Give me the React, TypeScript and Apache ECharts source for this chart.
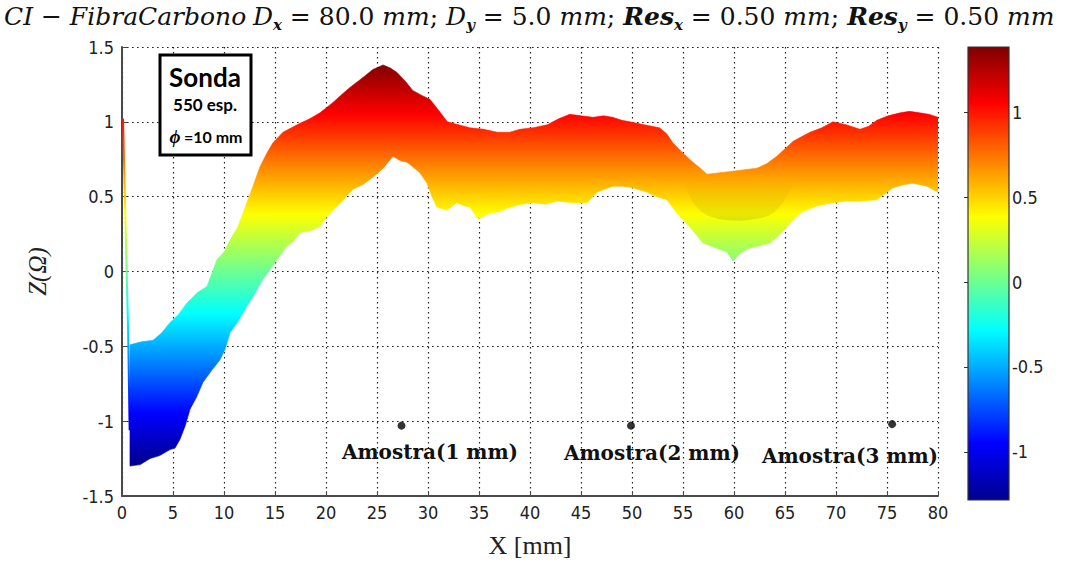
import React, { useEffect, useRef } from "react";
import * as echarts from "echarts";

// Upper and lower envelopes of the impedance surface seen in the X–Z plane
const upperX = [0.78, 1.9, 3.04, 3.9, 4.71, 5.5, 6.37, 7.4, 8.33, 9.31, 10.0, 10.59, 11.3, 11.86, 12.84, 13.53, 14.2, 14.8, 15.78, 16.6, 17.45, 18.4, 19.41, 20.69, 21.5, 22.35, 23.5, 24.6, 25.6, 26.3, 26.96, 27.8, 28.5, 29.3, 30.2, 31.0, 31.9, 33.0, 34.1, 35.5, 36.8, 38.0, 39.0, 40.3, 41.7, 42.8, 43.9, 45.0, 46.2, 47.2, 48.1, 49.0, 49.8, 51.2, 52.7, 53.4, 54.0, 55.0, 55.98, 56.7, 57.35, 58.6, 59.9, 61.0, 62.25, 63.2, 64.2, 65.0, 65.8, 66.6, 67.45, 68.6, 69.7, 71.0, 72.35, 73.2, 74.0, 75.1, 76.3, 77.2, 78.2, 79.1, 80.0];
const upperZ = [-0.49, -0.47, -0.46, -0.41, -0.34, -0.29, -0.21, -0.14, -0.1, 0.08, 0.13, 0.21, 0.29, 0.39, 0.57, 0.7, 0.79, 0.86, 0.93, 0.96, 0.99, 1.02, 1.06, 1.13, 1.18, 1.23, 1.29, 1.35, 1.38, 1.36, 1.33, 1.27, 1.21, 1.18, 1.15, 1.08, 1.0, 0.98, 0.96, 0.95, 0.93, 0.93, 0.95, 0.96, 0.98, 1.02, 1.05, 1.04, 1.03, 1.04, 1.03, 1.01, 1.0, 0.98, 0.96, 0.92, 0.86, 0.79, 0.73, 0.69, 0.65, 0.66, 0.67, 0.68, 0.69, 0.72, 0.77, 0.82, 0.87, 0.9, 0.93, 0.96, 1.0, 0.98, 0.95, 0.97, 1.01, 1.04, 1.06, 1.07, 1.06, 1.05, 1.03];
const lowerX = [0.78, 1.8, 2.75, 3.7, 4.71, 5.2, 5.69, 6.2, 6.67, 7.3, 7.94, 8.8, 9.61, 10.1, 10.59, 11.4, 12.25, 13.0, 13.82, 14.5, 15.2, 16.18, 16.8, 17.45, 18.4, 19.41, 20.0, 20.69, 21.7, 22.65, 23.6, 24.6, 25.6, 26.57, 27.3, 27.94, 28.5, 29.2, 29.9, 30.4, 30.88, 31.86, 32.84, 33.5, 34.12, 34.9, 35.5, 36.08, 37.0, 38.04, 39.2, 40.29, 41.5, 42.65, 44.2, 45.6, 46.57, 47.3, 48.14, 49.1, 50.1, 51.47, 52.4, 53.43, 54.4, 55.2, 56.0, 56.96, 58.1, 59.3, 59.9, 60.6, 61.27, 62.4, 63.53, 64.4, 65.2, 66.0, 66.76, 68.2, 69.7, 71.0, 72.35, 74.0, 74.8, 75.6, 76.6, 77.55, 78.9, 80.0];
const lowerZ = [-1.3, -1.29, -1.25, -1.23, -1.19, -1.18, -1.12, -1.03, -0.92, -0.84, -0.74, -0.66, -0.59, -0.52, -0.41, -0.33, -0.23, -0.15, -0.05, 0.01, 0.08, 0.17, 0.2, 0.26, 0.27, 0.3, 0.36, 0.41, 0.48, 0.55, 0.58, 0.63, 0.69, 0.77, 0.74, 0.73, 0.7, 0.66, 0.59, 0.5, 0.43, 0.41, 0.46, 0.44, 0.43, 0.35, 0.37, 0.39, 0.4, 0.43, 0.45, 0.46, 0.45, 0.47, 0.46, 0.46, 0.53, 0.55, 0.57, 0.57, 0.56, 0.53, 0.5, 0.48, 0.39, 0.33, 0.27, 0.19, 0.16, 0.13, 0.07, 0.12, 0.15, 0.17, 0.19, 0.24, 0.3, 0.36, 0.4, 0.44, 0.46, 0.47, 0.47, 0.48, 0.52, 0.56, 0.58, 0.59, 0.57, 0.53];

// Darker fold of the surface around the 60 mm dip
const foldX = [55.2, 56.5, 58.0, 60.0, 62.0, 64.0, 65.8];
const foldHigh = [0.58, 0.61, 0.6, 0.6, 0.6, 0.62, 0.6];
const foldLow = [0.56, 0.42, 0.36, 0.34, 0.35, 0.4, 0.58];

// Thin probe trace at the left edge
const probeX = [0.1, 0.3, 0.6, 0.75];
const probeZ = [1.02, 0.45, -0.4, -1.06];

// Sample markers
const sampleX = [27.4, 49.9, 75.5];
const sampleZ = [-1.03, -1.03, -1.02];
const sampleLabels = ["Amostra(1 mm)", "Amostra(2 mm)", "Amostra(3 mm)"];

// Colour scale
const zMin = -1.284;
const zMax = 1.385;
const colorTicks = [-1, -0.5, 0, 0.5, 1];

// jet colormap, listed from the top (max) to the bottom (min)
const jetStops = [
  { offset: 0, color: "#800000" },
  { offset: 0.125, color: "#ff0000" },
  { offset: 0.375, color: "#ffff00" },
  { offset: 0.625, color: "#00ffff" },
  { offset: 0.875, color: "#0000ff" },
  { offset: 1, color: "#00008f" },
];

const tickFont = "'Liberation Sans Narrow', 'DejaVu Sans Condensed', 'Liberation Sans', sans-serif";
const axisColor = "#4a4a4a";
const titleFont = "'DejaVu Serif', serif";

export default function App() {
  const ref = useRef<HTMLDivElement>(null);

  useEffect(() => {
    const chart = echarts.init(ref.current!, undefined, { renderer: "svg" });

    const gridLine = { show: true, lineStyle: { color: "#222", type: [1.6, 3.4], width: 1.2 } };

    const option: any = {
      animation: false,
      backgroundColor: "#fff",
      grid: [
        { left: 122, top: 47, width: 816, height: 450 },
        { left: 968, top: 47, width: 41, height: 453 },
      ],
      xAxis: [
        {
          gridIndex: 0,
          type: "value",
          min: 0,
          max: 80,
          interval: 5,
          name: "X [mm]",
          nameLocation: "middle",
          nameGap: 36,
          nameTextStyle: { fontFamily: "'Liberation Serif', serif", fontSize: 26, color: "#222" },
          axisLine: { show: true, onZero: false, lineStyle: { color: axisColor, width: 2 } },
          axisTick: { show: true, inside: true, length: 5, lineStyle: { color: axisColor } },
          axisLabel: { fontFamily: tickFont, fontSize: 18, color: "#222", margin: 7 },
          splitLine: gridLine,
        },
        { gridIndex: 1, type: "value", min: 0, max: 1, show: false },
      ],
      yAxis: [
        {
          gridIndex: 0,
          type: "value",
          min: -1.5,
          max: 1.5,
          interval: 0.5,
          name: "Z(Ω)",
          nameLocation: "middle",
          nameRotate: 90,
          nameGap: 72,
          nameTextStyle: { fontFamily: "'Liberation Serif', serif", fontStyle: "italic", fontSize: 25, color: "#222" },
          axisLine: { show: true, onZero: false, lineStyle: { color: axisColor, width: 2 } },
          axisTick: { show: true, inside: true, length: 5, lineStyle: { color: axisColor } },
          axisLabel: { fontFamily: tickFont, fontSize: 18, color: "#222", margin: 8 },
          splitLine: gridLine,
        },
        {
          gridIndex: 1,
          type: "value",
          min: zMin,
          max: zMax,
          position: "right",
          axisLine: { show: false },
          axisTick: { show: true, inside: true, length: 4, customValues: colorTicks, lineStyle: { color: "#333" } },
          axisLabel: { show: true, customValues: colorTicks, fontFamily: tickFont, fontSize: 18, color: "#222", margin: 3 },
          splitLine: { show: false },
        },
        {
          gridIndex: 1,
          type: "value",
          min: zMin,
          max: zMax,
          position: "left",
          axisLine: { show: false },
          axisTick: { show: true, inside: true, length: 4, customValues: colorTicks, lineStyle: { color: "#333" } },
          axisLabel: { show: false },
          splitLine: { show: false },
        },
      ],
      series: [
        {
          type: "custom",
          xAxisIndex: 0,
          yAxisIndex: 0,
          data: [0],
          clip: true,
          silent: true,
          renderItem: (_params: any, api: any) => {
            const yTop = api.coord([0, zMax])[1];
            const yBot = api.coord([0, zMin])[1];
            const fill = () => new echarts.graphic.LinearGradient(0, yTop, 0, yBot, jetStops, true);
            const pts: number[][] = [];
            for (let i = 0; i < upperX.length; i++) pts.push(api.coord([upperX[i], upperZ[i]]));
            for (let i = lowerX.length - 1; i >= 0; i--) pts.push(api.coord([lowerX[i], lowerZ[i]]));
            const fold: number[][] = [];
            for (let i = 0; i < foldX.length; i++) fold.push(api.coord([foldX[i], foldHigh[i]]));
            for (let i = foldX.length - 1; i >= 0; i--) fold.push(api.coord([foldX[i], foldLow[i]]));
            const probe = probeX.map((x, i) => api.coord([x, probeZ[i]]));
            return {
              type: "group",
              children: [
                { type: "polygon", shape: { points: pts }, style: { fill: fill(), stroke: fill(), lineWidth: 0.6 } },
                {
                  type: "polygon",
                  shape: { points: fold, smooth: 0.4 },
                  style: {
                    fill: new echarts.graphic.LinearGradient(0, 0, 0, 1, [
                      { offset: 0, color: "rgba(110,90,0,0)" },
                      { offset: 1, color: "rgba(110,90,0,0.17)" },
                    ]),
                  },
                },
                { type: "polyline", shape: { points: probe }, style: { fill: null, stroke: fill(), lineWidth: 2 } },
              ],
            };
          },
        },
        {
          type: "scatter",
          xAxisIndex: 0,
          yAxisIndex: 0,
          symbolSize: 8,
          itemStyle: { color: "#000" },
          data: sampleX.map((x, i) => [x, sampleZ[i]]),
          z: 5,
        },
        {
          type: "custom",
          xAxisIndex: 1,
          yAxisIndex: 1,
          data: [0],
          silent: true,
          renderItem: (_params: any, api: any) => {
            const p0 = api.coord([0, zMax]);
            const p1 = api.coord([1, zMin]);
            return {
              type: "rect",
              shape: { x: p0[0], y: p0[1], width: p1[0] - p0[0], height: p1[1] - p0[1] },
              style: {
                fill: new echarts.graphic.LinearGradient(0, p0[1], 0, p1[1], jetStops, true),
                stroke: "#333",
                lineWidth: 1.2,
              },
            };
          },
        },
      ],
      graphic: [
        {
          type: "text",
          left: 4,
          top: 4,
          style: {
            text:
              "{i|CI − FibraCarbono}  {i|D}{s|x}{n| = 80.0 }{i|mm}{n|; }{i|D}{s|y}{n| = 5.0 }{i|mm}{n|; }{b|Res}{s|x}{n| = 0.50 }{i|mm}{n|; }{b|Res}{s|y}{n| = 0.50 }{i|mm}",
            rich: {
              i: { fontFamily: titleFont, fontStyle: "italic", fontSize: 25, lineHeight: 32, verticalAlign: "middle", fill: "#111" },
              b: { fontFamily: titleFont, fontStyle: "italic", fontWeight: "bold", fontSize: 25, lineHeight: 32, verticalAlign: "middle", fill: "#111" },
              n: { fontFamily: titleFont, fontSize: 25, lineHeight: 32, verticalAlign: "middle", fill: "#111" },
              s: { fontFamily: titleFont, fontStyle: "italic", fontWeight: "bold", fontSize: 15, lineHeight: 13, verticalAlign: "bottom", fill: "#111" },
            },
          },
        },
        {
          type: "rect",
          shape: { x: 160, y: 55, width: 91, height: 100 },
          style: { fill: "#fff", stroke: "#000", lineWidth: 3 },
          z: 10,
        },
        {
          type: "text",
          x: 205,
          y: 77,
          style: { text: "Sonda", fontFamily: "Lato, 'Open Sans', sans-serif", fontWeight: "bold", fontSize: 26, fill: "#000", align: "center", verticalAlign: "middle" },
          z: 11,
        },
        {
          type: "text",
          x: 205,
          y: 104,
          style: { text: "550 esp.", fontFamily: "Lato, 'Open Sans', sans-serif", fontWeight: "bold", fontSize: 17, fill: "#000", align: "center", verticalAlign: "middle" },
          z: 11,
        },
        {
          type: "text",
          x: 206,
          y: 136,
          style: {
            text: "{p|ϕ} {t|=10 mm}",
            align: "center",
            verticalAlign: "middle",
            rich: {
              p: { fontFamily: "'Liberation Serif', serif", fontStyle: "italic", fontWeight: "bold", fontSize: 19, fill: "#000" },
              t: { fontFamily: "Lato, 'Open Sans', sans-serif", fontWeight: "bold", fontSize: 16, fill: "#000" },
            },
          },
          z: 11,
        },
        ...sampleLabels.map((t, i) => ({
          type: "text",
          x: [430, 652, 850][i],
          y: [452, 453, 456][i],
          style: { text: t, fontFamily: "'DejaVu Serif', serif", fontWeight: "bold", fontSize: 20, fill: "#111", align: "center", verticalAlign: "middle" },
          z: 10,
        })),
      ],
    };

    chart.setOption(option);
    return () => chart.dispose();
  }, []);

  return <div ref={ref} style={{ position: "fixed", left: 0, top: 0, width: 1083, height: 563, background: "#fff" }} />;
}
